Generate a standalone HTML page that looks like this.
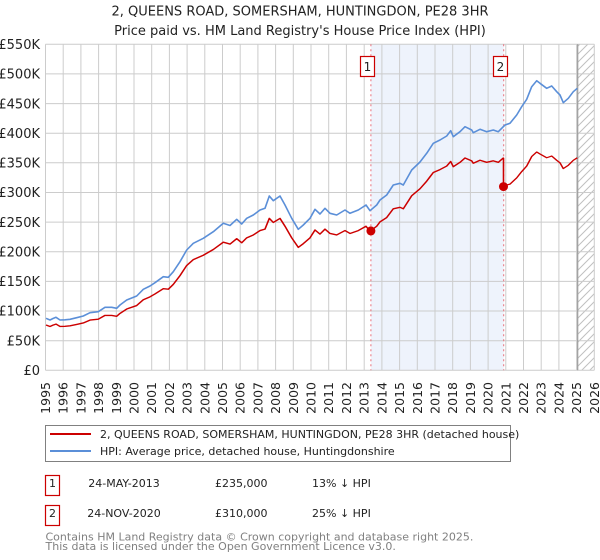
<!DOCTYPE html>
<html><head><meta charset="utf-8"><style>
html,body{margin:0;padding:0;background:#fff;}
svg{display:block;font-family:"DejaVu Sans","Liberation Sans",sans-serif;}
</style></head><body>
<svg width="600" height="560" viewBox="0 0 600 560" xmlns="http://www.w3.org/2000/svg">
<defs>
<pattern id="hatch" patternUnits="userSpaceOnUse" width="8" height="8">
<path d="M-2,2 L2,-2 M0,8 L8,0 M6,10 L10,6" stroke="#c0c0c0" stroke-width="1"/>
</pattern>
<clipPath id="c1"><rect x="40" y="40" width="463.5" height="340"/></clipPath>
<clipPath id="c2"><rect x="503.5" y="40" width="100" height="340"/></clipPath>
</defs>
<text x="300" y="15.3" font-size="13" text-anchor="middle" fill="#222">2, QUEENS ROAD, SOMERSHAM, HUNTINGDON, PE28 3HR</text>
<text x="300" y="35.2" font-size="13" text-anchor="middle" fill="#222">Price paid vs. HM Land Registry's House Price Index (HPI)</text>
<rect x="370.9" y="44.3" width="132.8" height="326" fill="#eef3fc"/>
<rect x="577.7" y="44.3" width="16.6" height="326" fill="url(#hatch)"/>
<g stroke="#cccccc" stroke-width="1" fill="none">
<path d="M45.5,44.3V370.3M63.2,44.3V370.3M80.9,44.3V370.3M98.6,44.3V370.3M116.3,44.3V370.3M134,44.3V370.3M151.7,44.3V370.3M169.4,44.3V370.3M187.1,44.3V370.3M204.8,44.3V370.3M222.5,44.3V370.3M240.2,44.3V370.3M257.9,44.3V370.3M275.6,44.3V370.3M293.3,44.3V370.3M311,44.3V370.3M328.7,44.3V370.3M346.4,44.3V370.3M364.2,44.3V370.3M381.9,44.3V370.3M399.6,44.3V370.3M417.3,44.3V370.3M435,44.3V370.3M452.7,44.3V370.3M470.4,44.3V370.3M488.1,44.3V370.3M505.8,44.3V370.3M523.5,44.3V370.3M541.2,44.3V370.3M558.9,44.3V370.3M576.6,44.3V370.3M594.3,44.3V370.3"/>
<path d="M45.5,370.3H594.3M45.5,340.7H594.3M45.5,311H594.3M45.5,281.4H594.3M45.5,251.8H594.3M45.5,222.1H594.3M45.5,192.5H594.3M45.5,162.8H594.3M45.5,133.2H594.3M45.5,103.6H594.3M45.5,73.9H594.3M45.5,44.3H594.3"/>
</g>
<line x1="577.7" y1="44.3" x2="577.7" y2="370.3" stroke="#9a9a9a" stroke-width="1.2"/>
<g stroke="#e8707a" stroke-width="1" stroke-dasharray="2,3">
<line x1="370.9" y1="44.3" x2="370.9" y2="370.3"/>
<line x1="503.7" y1="44.3" x2="503.7" y2="370.3"/>
</g>
<g font-size="13" fill="#222" text-anchor="end">
<text x="40" y="49">£550K</text>
<text x="40" y="78.6">£500K</text>
<text x="40" y="108.3">£450K</text>
<text x="40" y="137.9">£400K</text>
<text x="40" y="167.5">£350K</text>
<text x="40" y="197.2">£300K</text>
<text x="40" y="226.8">£250K</text>
<text x="40" y="256.5">£200K</text>
<text x="40" y="286.1">£150K</text>
<text x="40" y="315.7">£100K</text>
<text x="40" y="345.4">£50K</text>
<text x="40" y="375">£0</text>
</g>
<g font-size="12.5" fill="#222" text-anchor="end">
<text transform="translate(50,382) rotate(-90)">1995</text>
<text transform="translate(67.7,382) rotate(-90)">1996</text>
<text transform="translate(85.4,382) rotate(-90)">1997</text>
<text transform="translate(103.1,382) rotate(-90)">1998</text>
<text transform="translate(120.8,382) rotate(-90)">1999</text>
<text transform="translate(138.5,382) rotate(-90)">2000</text>
<text transform="translate(156.2,382) rotate(-90)">2001</text>
<text transform="translate(173.9,382) rotate(-90)">2002</text>
<text transform="translate(191.6,382) rotate(-90)">2003</text>
<text transform="translate(209.3,382) rotate(-90)">2004</text>
<text transform="translate(227,382) rotate(-90)">2005</text>
<text transform="translate(244.7,382) rotate(-90)">2006</text>
<text transform="translate(262.4,382) rotate(-90)">2007</text>
<text transform="translate(280.1,382) rotate(-90)">2008</text>
<text transform="translate(297.8,382) rotate(-90)">2009</text>
<text transform="translate(315.5,382) rotate(-90)">2010</text>
<text transform="translate(333.2,382) rotate(-90)">2011</text>
<text transform="translate(350.9,382) rotate(-90)">2012</text>
<text transform="translate(368.7,382) rotate(-90)">2013</text>
<text transform="translate(386.4,382) rotate(-90)">2014</text>
<text transform="translate(404.1,382) rotate(-90)">2015</text>
<text transform="translate(421.8,382) rotate(-90)">2016</text>
<text transform="translate(439.5,382) rotate(-90)">2017</text>
<text transform="translate(457.2,382) rotate(-90)">2018</text>
<text transform="translate(474.9,382) rotate(-90)">2019</text>
<text transform="translate(492.6,382) rotate(-90)">2020</text>
<text transform="translate(510.3,382) rotate(-90)">2021</text>
<text transform="translate(528,382) rotate(-90)">2022</text>
<text transform="translate(545.7,382) rotate(-90)">2023</text>
<text transform="translate(563.4,382) rotate(-90)">2024</text>
<text transform="translate(581.1,382) rotate(-90)">2025</text>
<text transform="translate(598.8,382) rotate(-90)">2026</text>
</g>
<defs>
<path id="hpi" d="M46,318.3 L50,320 L53,318.5 L56,317.3 L60,320 L65,319.8 L70,319.3 L76.7,317.7 L83.3,316 L90,312.7 L98.3,311.7 L105,307.3 L111.7,307.3 L116.7,308.3 L120,305 L126.7,300 L136.7,296 L143.3,289.3 L150,286 L155,282.7 L163.3,276.7 L168.3,277.3 L173.3,271.7 L180,261.7 L186.7,250 L193.3,243.3 L203.3,238.3 L213.3,231.7 L223.3,223.3 L230,225.5 L236.7,219.3 L241.7,224 L246.7,218.3 L253.3,215 L260,210 L265,208.3 L269.3,196 L273.3,200.7 L280,196 L285,205 L291.7,218.3 L298.3,229.3 L303.3,225 L310,218.3 L315,209.3 L320,214 L325,208.3 L330,213.3 L336.7,215 L345,210 L350,213.3 L358.3,210 L366,205 L370,210.7 L376.7,205 L380,200 L386.7,195 L393.3,185 L400,183.3 L403.3,185 L411.7,170 L420,162 L426.7,153.3 L430,148.3 L433.3,143.3 L440,140 L446.7,136 L450.7,130.7 L453.3,136.7 L460,131.7 L465,126.7 L471.7,130 L473.3,132.7 L480,129.3 L486.7,131.7 L493.3,130 L498.3,131.7 L501.7,128.3 L505,125 L510,123.3 L516.7,115 L521.7,106.7 L526.7,99.3 L531.7,86.7 L536.7,80.7 L540,83.3 L546.7,88.3 L551.7,86 L556.7,91.7 L560,95 L563.3,102.7 L568.3,98.3 L573.3,91.7 L577.3,88.3"/>
</defs>
<use href="#hpi" stroke="#5b8fd8" stroke-width="1.6" fill="none" stroke-linejoin="round"/>
<g clip-path="url(#c1)">
<g transform="matrix(1 0 0 0.8716 0 47.55)">
<use href="#hpi" stroke="#cc0000" stroke-width="1.6" fill="none" stroke-linejoin="round" vector-effect="non-scaling-stroke"/>
</g>
</g>
<g clip-path="url(#c2)">
<g transform="matrix(1 0 0 0.7537 0 91.2)">
<use href="#hpi" stroke="#cc0000" stroke-width="1.6" fill="none" stroke-linejoin="round" vector-effect="non-scaling-stroke"/>
</g>
</g>
<line x1="503.5" y1="157.8" x2="503.5" y2="186.6" stroke="#cc0000" stroke-width="1.6"/>
<circle cx="370.9" cy="230.9" r="4.5" fill="#cc0000"/>
<circle cx="503.5" cy="186.6" r="4.5" fill="#cc0000"/>
<rect x="360.5" y="56.5" width="14" height="20" fill="#fff" stroke="#cc0000" stroke-width="1.2"/>
<text x="367.5" y="71" font-size="12" text-anchor="middle" fill="#222">1</text>
<rect x="493.5" y="56.5" width="14" height="20" fill="#fff" stroke="#cc0000" stroke-width="1.2"/>
<text x="500.5" y="71" font-size="12" text-anchor="middle" fill="#222">2</text>
<rect x="45.5" y="425.5" width="465" height="36" fill="#fff" stroke="#808080" stroke-width="1"/>
<line x1="50" y1="434" x2="91" y2="434" stroke="#cc0000" stroke-width="2"/>
<line x1="50" y1="451" x2="91" y2="451" stroke="#5b8fd8" stroke-width="2"/>
<text x="100" y="438" font-size="11" fill="#222">2, QUEENS ROAD, SOMERSHAM, HUNTINGDON, PE28 3HR (detached house)</text>
<text x="100" y="455" font-size="11" fill="#222">HPI: Average price, detached house, Huntingdonshire</text>
<rect x="45.5" y="475.5" width="14" height="20" fill="#fff" stroke="#cc0000" stroke-width="1.2"/>
<text x="52.5" y="487" font-size="11" text-anchor="middle" fill="#222">1</text>
<text x="124" y="487" font-size="11" text-anchor="middle" fill="#222">24-MAY-2013</text>
<text x="215" y="487" font-size="11" fill="#222">£235,000</text>
<text x="312" y="487" font-size="11" fill="#222">13% ↓ HPI</text>
<rect x="45.5" y="505.5" width="14" height="20" fill="#fff" stroke="#cc0000" stroke-width="1.2"/>
<text x="52.5" y="517" font-size="11" text-anchor="middle" fill="#222">2</text>
<text x="124" y="517" font-size="11" text-anchor="middle" fill="#222">24-NOV-2020</text>
<text x="215" y="517" font-size="11" fill="#222">£310,000</text>
<text x="312" y="517" font-size="11" fill="#222">25% ↓ HPI</text>
<text x="45.5" y="540.5" font-size="11" fill="#808080">Contains HM Land Registry data © Crown copyright and database right 2025.</text>
<text x="45.5" y="550" font-size="11" fill="#808080">This data is licensed under the Open Government Licence v3.0.</text>
</svg>
</body></html>
